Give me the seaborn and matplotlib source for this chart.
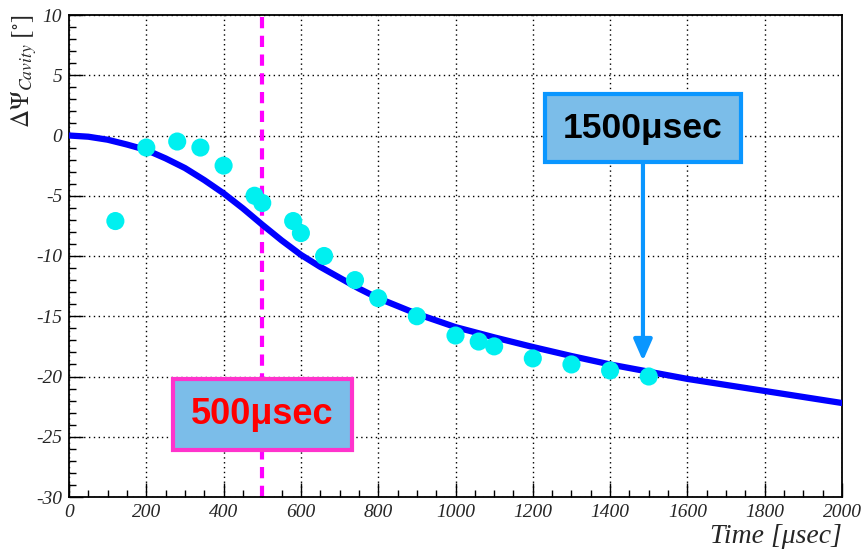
import numpy as np
import pandas as pd
import matplotlib
matplotlib.use('Agg')
import matplotlib.pyplot as plt
from matplotlib.ticker import MultipleLocator
import seaborn as sns

# fitted curve (time in usec, angle in deg)
curve_t = [0, 50, 100, 150, 200, 250, 300, 350, 400, 450, 500, 550, 600, 650, 700, 750, 800,
           900, 1000, 1100, 1200, 1300, 1400, 1500, 1600, 1700, 1800, 1900, 2000]
curve_psi = [0.0, -0.1, -0.35, -0.75, -1.2, -1.9, -2.7, -3.7, -4.8, -6.05, -7.4, -8.7, -9.9,
             -10.9, -11.8, -12.7, -13.5, -14.8, -15.9, -16.75, -17.55, -18.3, -19.0, -19.6,
             -20.2, -20.7, -21.2, -21.7, -22.2]

# measured points
meas_t = [120, 200, 280, 340, 400, 480, 500, 580, 600, 660, 740, 800,
          900, 1000, 1060, 1100, 1200, 1300, 1400, 1500]
meas_psi = [-7.1, -1.0, -0.5, -1.0, -2.5, -5.0, -5.6, -7.1, -8.1, -10.0, -12.0, -13.5,
            -15.0, -16.6, -17.1, -17.5, -18.5, -19.0, -19.5, -20.0]

marker_time = 500
arrow_time = 1485

df_curve = pd.DataFrame({'t': curve_t, 'psi': curve_psi})
df_meas = pd.DataFrame({'t': meas_t, 'psi': meas_psi})

sns.set_theme(style='white')
plt.rcParams['font.family'] = ['Liberation Serif', 'DejaVu Serif']
plt.rcParams['mathtext.fontset'] = 'stix'
plt.rcParams['axes.unicode_minus'] = False

fig = plt.figure(figsize=(8.67, 5.53), dpi=100)
ax = fig.add_axes([69 / 867, 56 / 553, 773 / 867, 482 / 553])

sns.lineplot(data=df_curve, x='t', y='psi', color='#0000ff', linewidth=4.5, ax=ax, zorder=3)
sns.scatterplot(data=df_meas, x='t', y='psi', color='#00f0f0', s=170, edgecolor='none', ax=ax, zorder=4)

ax.axvline(marker_time, color='#ff00ff', linewidth=3, linestyle=(0, (2.7, 1.8)), zorder=2)

ax.set_xlim(0, 2000)
ax.set_ylim(-30, 10)
ax.xaxis.set_major_locator(MultipleLocator(200))
ax.xaxis.set_minor_locator(MultipleLocator(50))
ax.yaxis.set_major_locator(MultipleLocator(5))
ax.yaxis.set_minor_locator(MultipleLocator(1))
ax.tick_params(which='both', direction='in', left=True, bottom=True, top=False, right=False,
               color='black', width=1)
ax.tick_params(which='major', length=10, labelsize=14, pad=5)
ax.tick_params(which='minor', length=5)
for lab in ax.get_xticklabels() + ax.get_yticklabels():
    lab.set_fontstyle('italic')

ax.grid(True, which='major', color='black', linestyle=(0, (1, 2.5)), linewidth=1)
for sp in ax.spines.values():
    sp.set_color('black')
    sp.set_linewidth(1.3)

ax.set_xlabel('Time [\u03bcsec]', fontsize=20, fontstyle='italic', loc='right', labelpad=2)
ax.set_ylabel('')
fig.text(24 / 867, 1 - 14 / 553, r'$\Delta\Psi_{Cavity}\ [^{\circ}]$', fontsize=18,
         rotation=90, ha='center', va='top')

# annotation boxes
ax.annotate('1500\u03bcsec', xy=(arrow_time, -18.7), xytext=(arrow_time, 0.6),
            ha='center', va='center', fontsize=25.5, fontweight='bold',
            fontfamily='Liberation Sans', color='black',
            bbox=dict(boxstyle='square,pad=0.5', facecolor='#7bbde9', edgecolor='#0a96ff', linewidth=3),
            arrowprops=dict(arrowstyle='-|>,head_length=0.5,head_width=0.22', color='#0a96ff',
                            linewidth=3, shrinkA=0, shrinkB=0),
            zorder=6)
ax.text(marker_time, -23.15, '500\u03bcsec', ha='center', va='center', fontsize=26,
        fontweight='bold', fontfamily='Liberation Sans', color='#ff0000',
        bbox=dict(boxstyle='square,pad=0.5', facecolor='#7bbde9', edgecolor='#ff33cc', linewidth=3),
        zorder=6)

fig.savefig('out.png', dpi=100)
